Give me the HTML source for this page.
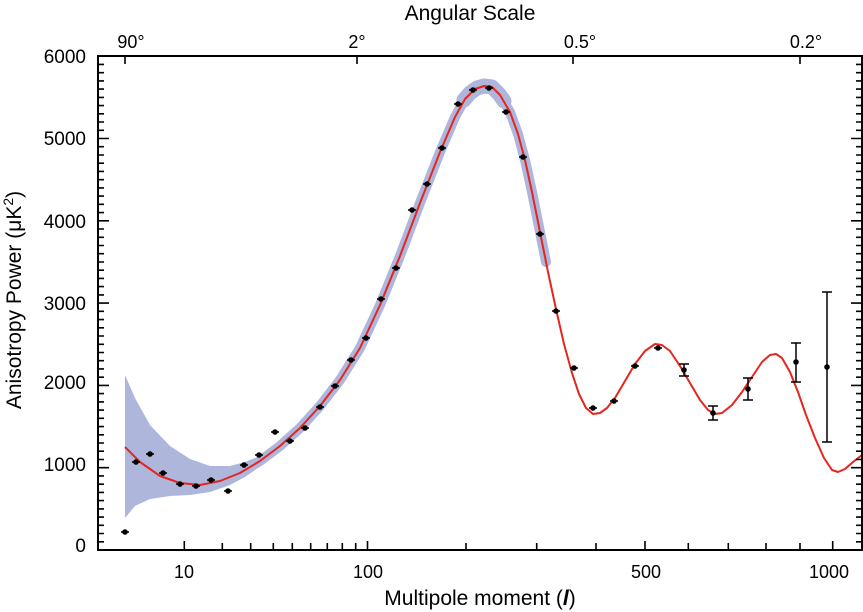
<!DOCTYPE html>
<html><head><meta charset="utf-8"><style>
body{margin:0;background:#fff}
svg{display:block}
text{font-family:"Liberation Sans",sans-serif;fill:#000}
</style></head><body>
<svg width="863" height="612" viewBox="0 0 863 612">
<polygon fill="#aeb6dc" points="125,375 135,398 150,425 170,446 190,459 210,466 230,466 245,462 255,458 255,470 245,477 230,485 210,492 190,495 170,496 150,499 135,506 125,518"/>
<polyline fill="none" stroke="#aeb6dc" stroke-width="10" stroke-linejoin="round" stroke-linecap="round" points="220,481 240,473 260,461 280,446 300,428 320,406 340,380 360,348 380,305 400,256 420,203 440,152 455,117 465,99 475,89 484,86 492,87 500,95 510,112 518,134 525,160 532,192 540,232 546,262"/>
<polyline fill="none" stroke="#aeb6dc" stroke-width="15" stroke-linejoin="round" stroke-linecap="round" points="464,100 470,93 477,88 484,86 492,87 499,94 504,101"/>
<polyline fill="none" stroke="#e3261f" stroke-width="2" stroke-linejoin="round" points="125,447 140,462 160,476 180,483 200,485 220,481 240,473 260,461 280,446 300,428 320,406 340,380 360,348 380,305 400,256 420,203 440,152 455,117 465,99 475,89 484,86 492,87 500,95 510,112 518,134 525,160 532,192 540,232 548,272 556,309 564,344 572,373 579,394 586,408 593,414 600,413 607,408 615,398 625,381 635,364 645,351 655,344 662,345 670,351 680,366 690,383 700,400 708,410 715,414 722,413 732,405 742,392 752,377 762,362 770,355 776,354 782,358 790,372 798,392 806,415 815,438 824,458 832,470 838,472 845,469 853,462 862,455"/>
<rect x="98" y="56" width="764" height="494" fill="none" stroke="#000" stroke-width="2"/>
<g stroke="#000" stroke-width="1.6">
<path d="M98 550h11M98 467.7h11M98 385.4h11M98 303.1h11M98 220.8h11M98 138.5h11M98 56h11
M862 550h-11M862 467.7h-11M862 385.4h-11M862 303.1h-11M862 220.8h-11M862 138.5h-11M862 56h-11"/>
<path d="M98 541.8h6M98 533.5h6M98 525.3h6M98 517.1h6M98 508.9h6M98 500.6h6M98 492.4h6M98 484.2h6M98 475.9h6
M98 459.5h6M98 451.2h6M98 443h6M98 434.8h6M98 426.6h6M98 418.3h6M98 410.1h6M98 401.9h6M98 393.6h6
M98 377.2h6M98 368.9h6M98 360.7h6M98 352.5h6M98 344.3h6M98 336h6M98 327.8h6M98 319.6h6M98 311.3h6
M98 294.9h6M98 286.6h6M98 278.4h6M98 270.2h6M98 262h6M98 253.7h6M98 245.5h6M98 237.3h6M98 229h6
M98 212.6h6M98 204.3h6M98 196.1h6M98 187.9h6M98 179.7h6M98 171.4h6M98 163.2h6M98 155h6M98 146.7h6
M98 130.3h6M98 122h6M98 113.8h6M98 105.6h6M98 97.4h6M98 89.1h6M98 80.9h6M98 72.7h6M98 64.4h6
M862 541.8h-6M862 533.5h-6M862 525.3h-6M862 517.1h-6M862 508.9h-6M862 500.6h-6M862 492.4h-6M862 484.2h-6M862 475.9h-6
M862 459.5h-6M862 451.2h-6M862 443h-6M862 434.8h-6M862 426.6h-6M862 418.3h-6M862 410.1h-6M862 401.9h-6M862 393.6h-6
M862 377.2h-6M862 368.9h-6M862 360.7h-6M862 352.5h-6M862 344.3h-6M862 336h-6M862 327.8h-6M862 319.6h-6M862 311.3h-6
M862 294.9h-6M862 286.6h-6M862 278.4h-6M862 270.2h-6M862 262h-6M862 253.7h-6M862 245.5h-6M862 237.3h-6M862 229h-6
M862 212.6h-6M862 204.3h-6M862 196.1h-6M862 187.9h-6M862 179.7h-6M862 171.4h-6M862 163.2h-6M862 155h-6M862 146.7h-6
M862 130.3h-6M862 122h-6M862 113.8h-6M862 105.6h-6M862 97.4h-6M862 89.1h-6M862 80.9h-6M862 72.7h-6M862 64.4h-6"/>
<path d="M184.3 550v-9M367.5 550v-9M645 550v-9M832.7 550v-9
M222.3 550v-7M250.7 550v-7M273.3 550v-7M292.3 550v-7M310.7 550v-7M327.3 550v-7M342.3 550v-7M355.7 550v-7
M466 550v-7M536.7 550v-7M596 550v-7M688.3 550v-7M728.3 550v-7M766 550v-7M800 550v-7"/>
<path d="M125 56v8M357 56v8M573 56v8M800 56v8"/>
</g>
<g stroke="#000" stroke-width="1.5">
<path d="M827 292v150M822 292h10M822 442h10M796 343v39M791 343h10M791 382h10M748 378v22M743 378h10M743 400h10M713 406v14M708 406h10M708 420h10M684 364v12M679 364h10M679 376h10"/>
</g>
<g fill="#000">
<circle cx="125" cy="532" r="2.8"/><circle cx="136" cy="462" r="2.8"/><circle cx="150" cy="454" r="2.8"/><circle cx="163" cy="473" r="2.8"/><circle cx="180" cy="484" r="2.8"/><circle cx="196" cy="486" r="2.8"/><circle cx="211" cy="480" r="2.8"/><circle cx="228" cy="491" r="2.8"/><circle cx="244" cy="465" r="2.8"/><circle cx="259" cy="455" r="2.8"/><circle cx="275" cy="432" r="2.8"/><circle cx="290" cy="441" r="2.8"/><circle cx="305" cy="428" r="2.8"/><circle cx="320" cy="407" r="2.8"/><circle cx="335" cy="386" r="2.8"/><circle cx="351" cy="360" r="2.8"/><circle cx="366" cy="338" r="2.8"/><circle cx="381" cy="299" r="2.8"/><circle cx="396" cy="268" r="2.8"/><circle cx="412" cy="210" r="2.8"/><circle cx="427" cy="184" r="2.8"/><circle cx="442" cy="148" r="2.8"/><circle cx="458" cy="104" r="2.8"/><circle cx="473" cy="90" r="2.8"/><circle cx="489" cy="88" r="2.8"/><circle cx="506" cy="112" r="2.8"/><circle cx="523" cy="157" r="2.8"/><circle cx="540" cy="234" r="2.8"/><circle cx="556" cy="311" r="2.8"/><circle cx="574" cy="368" r="2.8"/><circle cx="593" cy="408" r="2.8"/><circle cx="614" cy="401" r="2.8"/><circle cx="635" cy="366" r="2.8"/><circle cx="658" cy="348" r="2.8"/><circle cx="684" cy="370" r="2.8"/><circle cx="713" cy="413" r="2.8"/><circle cx="748" cy="389" r="2.8"/><circle cx="796" cy="362" r="2.8"/><circle cx="827" cy="367" r="2.8"/>
</g>
<g stroke="#000" stroke-width="1.4">
<path d="M121 532h8M132 462h8M146 454h8M159 473h8M176 484h8M192 486h8M207 480h8M224 491h8M240 465h8M255 455h8M271 432h8M286 441h8M301 428h8M316 407h8M331 386h8M347 360h8M362 338h8M377 299h8M392 268h8M408 210h8M423 184h8M438 148h8M454 104h8M469 90h8M485 88h8M502 112h8M519 157h8M536 234h8M552 311h8M570 368h8M589 408h8M610 401h8M631 366h8M654 348h8"/>
</g>
<text x="470" y="20" font-size="21" text-anchor="middle">Angular Scale</text>
<g font-size="18" text-anchor="middle">
<text x="131" y="48">90°</text><text x="357" y="48">2°</text><text x="580" y="48">0.5°</text><text x="806" y="48">0.2°</text>
<text x="184" y="578">10</text><text x="368" y="578">100</text><text x="646" y="578">500</text><text x="829" y="578">1000</text>
</g>
<g font-size="19" text-anchor="end">
<text x="86" y="552">0</text><text x="86" y="471">1000</text><text x="86" y="389">2000</text><text x="86" y="310">3000</text><text x="86" y="228">4000</text><text x="86" y="145">5000</text><text x="86" y="63">6000</text>
</g>
<text x="480" y="605" font-size="21" text-anchor="middle">Multipole moment (<tspan font-style="italic" font-weight="bold">l</tspan>)</text>
<text transform="translate(21,300) rotate(-90)" font-size="21" text-anchor="middle">Anisotropy Power (μK<tspan font-size="14" dy="-8">2</tspan><tspan dy="8">)</tspan></text>
</svg>
</body></html>
